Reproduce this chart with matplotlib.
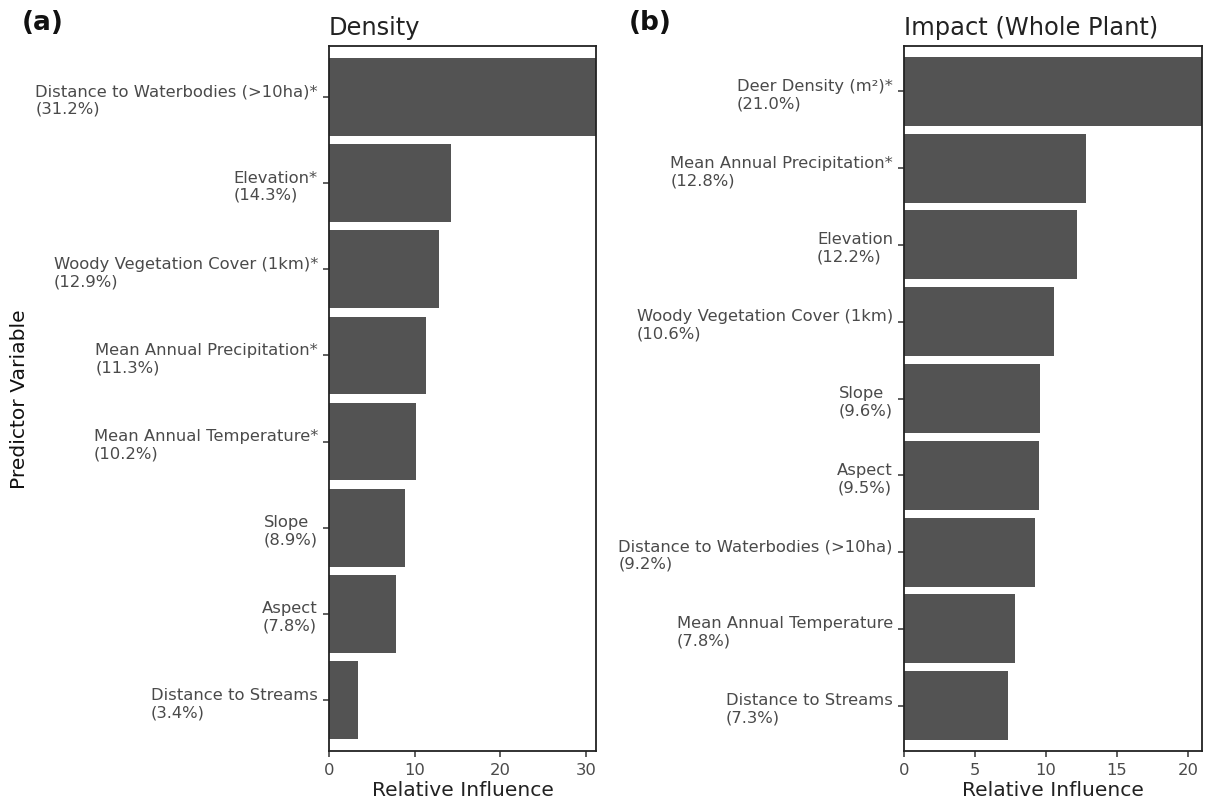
import matplotlib
matplotlib.use("Agg")
import matplotlib.pyplot as plt

# Panel (a) Density
dens_vars = ["Distance to Waterbodies (>10ha)*", "Elevation*", "Woody Vegetation Cover (1km)*",
             "Mean Annual Precipitation*", "Mean Annual Temperature*", "Slope", "Aspect",
             "Distance to Streams"]
dens_vals = [31.2, 14.3, 12.9, 11.3, 10.2, 8.9, 7.8, 3.4]
dens_ticks = [0, 10, 20, 30]

# Panel (b) Impact (Whole Plant)
imp_vars = ["Deer Density (m²)*", "Mean Annual Precipitation*", "Elevation",
            "Woody Vegetation Cover (1km)", "Slope", "Aspect",
            "Distance to Waterbodies (>10ha)", "Mean Annual Temperature", "Distance to Streams"]
imp_vals = [21.0, 12.8, 12.2, 10.6, 9.6, 9.5, 9.2, 7.8, 7.3]
imp_ticks = [0, 5, 10, 15, 20]

BAR = "#535353"
TXT = "#4a4a4a"
TICK_FS = 11.8
LAB_FS = 14.6

W, H = 1208, 803
fig = plt.figure(figsize=(W / 100, H / 100), dpi=100)

def make_panel(rect, names, vals, ticks, title, letter, letter_x, ylabel=None):
    ax = fig.add_axes(rect)
    pos = list(range(len(vals)))
    ax.barh(pos, vals, height=0.9, color=BAR, edgecolor="none")
    labels = [f"{n}\n({v:.1f}%)" for n, v in zip(names, vals)]
    ax.set_yticks(pos)
    ax.set_yticklabels(labels, fontsize=TICK_FS, color=TXT, multialignment="left")
    m = 0.14
    ax.set_ylim(len(vals) - 1 + 0.45 + m, -0.45 - m)
    ax.set_xlim(0, max(vals))
    ax.set_xticks(ticks)
    ax.tick_params(axis="x", labelsize=TICK_FS, labelcolor=TXT, color="#333333",
                   length=4.5, width=1.1)
    ax.tick_params(axis="y", color="#333333", length=4.5, width=1.1)
    ax.set_xlabel("Relative Influence", fontsize=LAB_FS, color="#222222", labelpad=2)
    for s in ax.spines.values():
        s.set_linewidth(1.3)
        s.set_color("#222222")
    ax.set_title(title, loc="left", fontsize=17.4, color="#222222", pad=9)
    if ylabel:
        ax.set_ylabel(ylabel, fontsize=LAB_FS, color="#111111")
        ax.yaxis.set_label_coords(-(329 - 29) / (596 - 329), 0.5)
    fig.text(letter_x / W, 1 - 23 / H, letter, fontsize=19, fontweight="bold",
             ha="left", va="center", color="#111111")
    return ax

bottom = (H - 752) / H
height = 705 / H
make_panel([329 / W, bottom, (596 - 329) / W, height], dens_vars, dens_vals, dens_ticks,
           "Density", "(a)", 22, ylabel="Predictor Variable")
make_panel([904 / W, bottom, (1202 - 904) / W, height], imp_vars, imp_vals, imp_ticks,
           "Impact (Whole Plant)", "(b)", 629)

fig.savefig("out.png", dpi=100)
